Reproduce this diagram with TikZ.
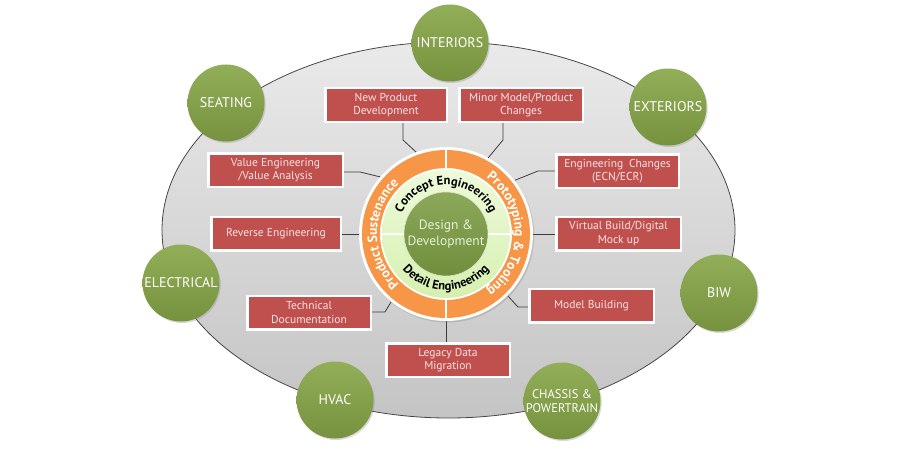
\documentclass[tikz,border=0pt]{standalone}
\usepackage{fontspec}
\setmainfont{PT Sans}
\usetikzlibrary{calc,shadows,decorations.text}

\definecolor{fieldtop}{RGB}{234,234,234}
\definecolor{fieldbot}{RGB}{196,196,196}
\definecolor{fieldline}{RGB}{70,70,70}
\definecolor{areatop}{RGB}{146,174,88}
\definecolor{areabot}{RGB}{118,146,62}
\definecolor{taskred}{RGB}{192,80,77}
\definecolor{tasktext}{RGB}{248,228,228}
\definecolor{linkgray}{RGB}{60,60,60}
\definecolor{ringorange}{RGB}{247,150,70}
\definecolor{lighttop}{RGB}{238,250,218}
\definecolor{lightbot}{RGB}{214,240,176}
\definecolor{hubtop}{RGB}{140,168,90}
\definecolor{hubbot}{RGB}{112,142,60}
\definecolor{hubtext}{RGB}{232,240,218}

\begin{document}
\begin{tikzpicture}[x=1pt, y=-1pt,
    every node/.style={font=\fontsize{11.5}{13.5}\selectfont},
    taskbox/.style={rectangle, draw=white, line width=2.5pt, fill=taskred,
                    text=tasktext, minimum height=33.5pt, inner sep=2pt, align=center,
                    drop shadow={shadow xshift=1.2pt, shadow yshift=-1.2pt, opacity=0.3}},
    areaball/.style={circle, minimum size=77pt, inner sep=0pt, align=center,
                     top color=areatop, bottom color=areabot, text=white,
                     font=\fontsize{14}{15}\selectfont,
                     drop shadow={shadow xshift=1.2pt, shadow yshift=-1.5pt, opacity=0.3}},
    link/.style={draw=linkgray, line width=0.8pt},
    ringword/.style={decorate, decoration={text along path, text align=center,
                     text color=#1}}
]
  \useasboundingbox (0,0) rectangle (900,460);

  % gray field
  \draw[fieldline, line width=0.8pt, top color=fieldtop, bottom color=fieldbot]
    (448.5,230) ellipse [x radius=286.5pt, y radius=188pt];

  % hub centre and ring anchors
  \coordinate (core) at (446,234);
  \coordinate (rNPD) at ($(core)+(110:87pt)$);
  \coordinate (rMM)  at ($(core)+(61:87pt)$);
  \coordinate (rVE)  at ($(core)+(139:87pt)$);
  \coordinate (rEC)  at ($(core)+(38:87pt)$);
  \coordinate (rRE)  at ($(core)+(180:87pt)$);
  \coordinate (rVB)  at ($(core)+(0:87pt)$);
  \coordinate (rTD)  at ($(core)+(231:87pt)$);
  \coordinate (rMB)  at ($(core)+(-45:87pt)$);
  \coordinate (rLD)  at ($(core)+(270:87pt)$);

  % task boxes
  \node[taskbox, minimum width=121.5pt] (npd)     at (386,105)   {New Product\\Development};
  \node[taskbox, minimum width=123.5pt] (minor)   at (521,105)   {Minor Model/Product\\Changes};
  \node[taskbox, minimum width=134.5pt] (value)   at (275.5,170) {Value Engineering\\/Value Analysis};
  \node[taskbox, minimum width=122.5pt] (ecn)     at (617.5,171) {Engineering\enspace Changes\\(ECN/ECR)};
  \node[taskbox, minimum width=129.5pt] (reverse) at (276,233.5) {Reverse Engineering};
  \node[taskbox, minimum width=124.5pt] (virtual) at (618.5,233.5) {Virtual Build/Digital\\Mock up};
  \node[taskbox, minimum width=123.5pt] (techdoc) at (309,312.5) {Technical\\Documentation};
  \node[taskbox, minimum width=124.5pt] (modelb)  at (591.5,305.5) {Model Building};
  \node[taskbox, minimum width=123.5pt] (legacy)  at (448,360)   {Legacy Data\\Migration};

  % knees of the connectors
  \coordinate (kNPD) at (403,140);
  \coordinate (kMM)  at (503,140);
  \coordinate (kVE)  at (360,172);
  \coordinate (kEC)  at (538,171);
  \coordinate (kTD)  at (385,312);
  \coordinate (kMB)  at (518,307);

  % connectors
  \draw[link] (rNPD) -- (kNPD) -- (kNPD |- npd.south);
  \draw[link] (rMM) -- (kMM) -- (kMM |- minor.south);
  \draw[link] (rVE) -- (kVE) -- (kVE -| value.east);
  \draw[link] (rEC) -- (kEC) -- (kEC -| ecn.west);
  \draw[link] (rRE) -- (rRE -| reverse.east);
  \draw[link] (rVB) -- (rVB -| virtual.west);
  \draw[link] (rTD) -- (kTD) -- (kTD -| techdoc.east);
  \draw[link] (rMB) -- (kMB) -- (kMB -| modelb.west);
  \draw[link] (rLD) -- (rLD |- legacy.north);

  % hub rings
  \fill[white, drop shadow={shadow xshift=1.2pt, shadow yshift=-1.5pt, opacity=0.3}]
    (core) circle[radius=87pt];
  \fill[ringorange, even odd rule] (core) circle[radius=84pt] (core) circle[radius=66pt];
  \shade[top color=lighttop, bottom color=lightbot] (core) circle[radius=64pt];
  \draw[white, line width=2.2pt] ($(core)+(90:65pt)$) -- ($(core)+(90:85pt)$);
  \draw[white, line width=2.2pt] ($(core)+(270:65pt)$) -- ($(core)+(270:85pt)$);
  \draw[white, line width=2.2pt] ($(core)+(180:42pt)$) -- ($(core)+(180:65pt)$);
  \draw[white, line width=2.2pt] ($(core)+(0:42pt)$) -- ($(core)+(0:65pt)$);
  \node[circle, minimum size=84pt, inner sep=0pt, align=center, draw=white!70!hubtop,
        line width=0.6pt, top color=hubtop, bottom color=hubbot, text=hubtext,
        font=\fontsize{13.5}{15.5}\selectfont] (hub) at (core) {Design \&\\Development};

  % words along the rings
  \path[ringword=white, decoration={text={|\bfseries\fontsize{13.5}{13.5}\selectfont|Product Sustenance}}]
    ($(core)+(248:69pt)$) arc[start angle=248, end angle=112, radius=69pt];
  \path[ringword=white, decoration={text={|\bfseries\fontsize{13.5}{13.5}\selectfont|Prototyping {\&} Tooling}}]
    ($(core)+(70:69pt)$) arc[start angle=70, end angle=-70, radius=69pt];
  \path[ringword=black, decoration={text={|\bfseries\fontsize{12.5}{12.5}\selectfont|Concept Engineering}}]
    ($(core)+(172:49pt)$) arc[start angle=172, end angle=8, radius=49pt];
  \path[ringword=black, decoration={text={|\bfseries\fontsize{12.5}{12.5}\selectfont|Detail Engineering}}]
    ($(core)+(198:56pt)$) arc[start angle=198, end angle=342, radius=56pt];

  % vehicle areas
  \node[areaball] (interiors)  at (450,43)  {INTERIORS};
  \node[areaball] (seating)    at (226,103) {SEATING};
  \node[areaball] (exteriors)  at (668,107) {EXTERIORS};
  \node[areaball] (electrical) at (181,283) {ELECTRICAL};
  \node[areaball] (biw)        at (719,293) {BIW};
  \node[areaball] (hvac)       at (335,400) {HVAC};
  \node[areaball, font=\fontsize{12.5}{14}\selectfont] (chassis) at (562,401) {CHASSIS \&\\POWERTRAIN};

\end{tikzpicture}
\end{document}
